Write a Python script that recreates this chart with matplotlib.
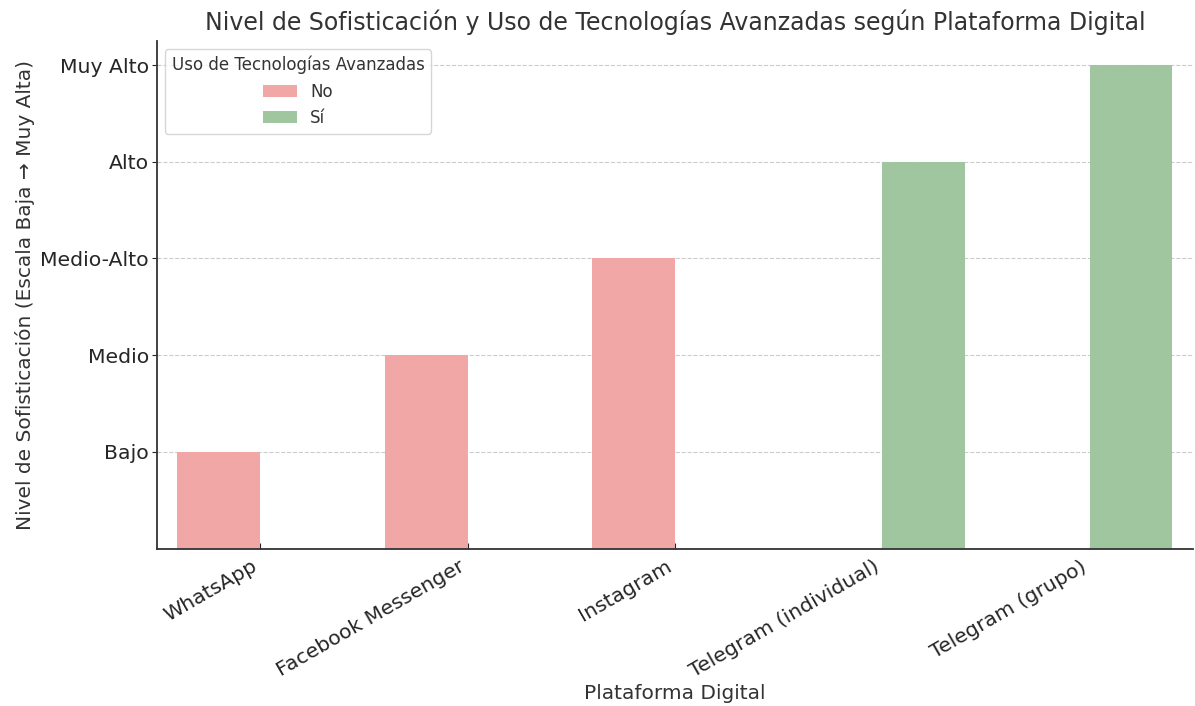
import matplotlib
matplotlib.use("Agg")

import matplotlib.pyplot as plt
import numpy as np
from matplotlib.patches import Patch

plataformas = ["WhatsApp", "Facebook Messenger", "Instagram", "Telegram (individual)", "Telegram (grupo)"]
sofisticacion = [1, 2, 3, 4, 5]
tecnologias = ["No", "No", "No", "Sí", "Sí"]
niveles = ["Bajo", "Medio", "Medio-Alto", "Alto", "Muy Alto"]
categorias_hue = ["No", "Sí"]
colores = {"No": "#f2a7a7", "Sí": "#9fc69f"}

plt.rcParams["text.color"] = "#333333"
plt.rcParams["axes.labelcolor"] = "#333333"
plt.rcParams["xtick.color"] = "#262626"
plt.rcParams["ytick.color"] = "#262626"

fig, ax = plt.subplots(figsize=(11.95, 7.06), dpi=100)
fig.subplots_adjust(left=0.131, right=0.9985, top=0.942, bottom=0.223)

x = np.arange(len(plataformas))
ancho = 0.4
for i, (v, t) in enumerate(zip(sofisticacion, tecnologias)):
    desplazamiento = -ancho / 2 if t == "No" else ancho / 2
    ax.bar(x[i] + desplazamiento, v, width=ancho, color=colores[t], zorder=2)

ax.set_xlim(-0.5, len(plataformas) - 0.5)
ax.set_ylim(0, 5.25)
ax.set_xticks(x)
ax.set_xticklabels(plataformas, rotation=30, ha="right", fontsize=14.7)
ax.set_yticks(sofisticacion)
ax.set_yticklabels(niveles, fontsize=14.7)
ax.tick_params(axis="y", length=3.5, pad=2)
ax.tick_params(axis="x", direction="in", length=4, pad=6)
ax.grid(axis="y", linestyle="--", color="#cccccc", linewidth=0.8, zorder=0)
ax.spines["top"].set_visible(False)
ax.spines["right"].set_visible(False)
ax.spines["left"].set_color("#333333")
ax.spines["bottom"].set_color("#333333")
ax.spines["left"].set_linewidth(1.3)
ax.spines["bottom"].set_linewidth(1.3)

ax.set_title("Nivel de Sofisticación y Uso de Tecnologías Avanzadas según Plataforma Digital", fontsize=17, pad=8)
ax.set_xlabel("Plataforma Digital", fontsize=14.5, labelpad=2)
ax.set_ylabel("Nivel de Sofisticación (Escala Baja → Muy Alta)", fontsize=14.5)

handles = [Patch(facecolor=colores[c], label=c) for c in categorias_hue]
ax.legend(handles=handles, title="Uso de Tecnologías Avanzadas", loc="upper left",
          fontsize=12, title_fontsize=12)

plt.savefig("out.png")
print("Gráfica guardada como out.png")
